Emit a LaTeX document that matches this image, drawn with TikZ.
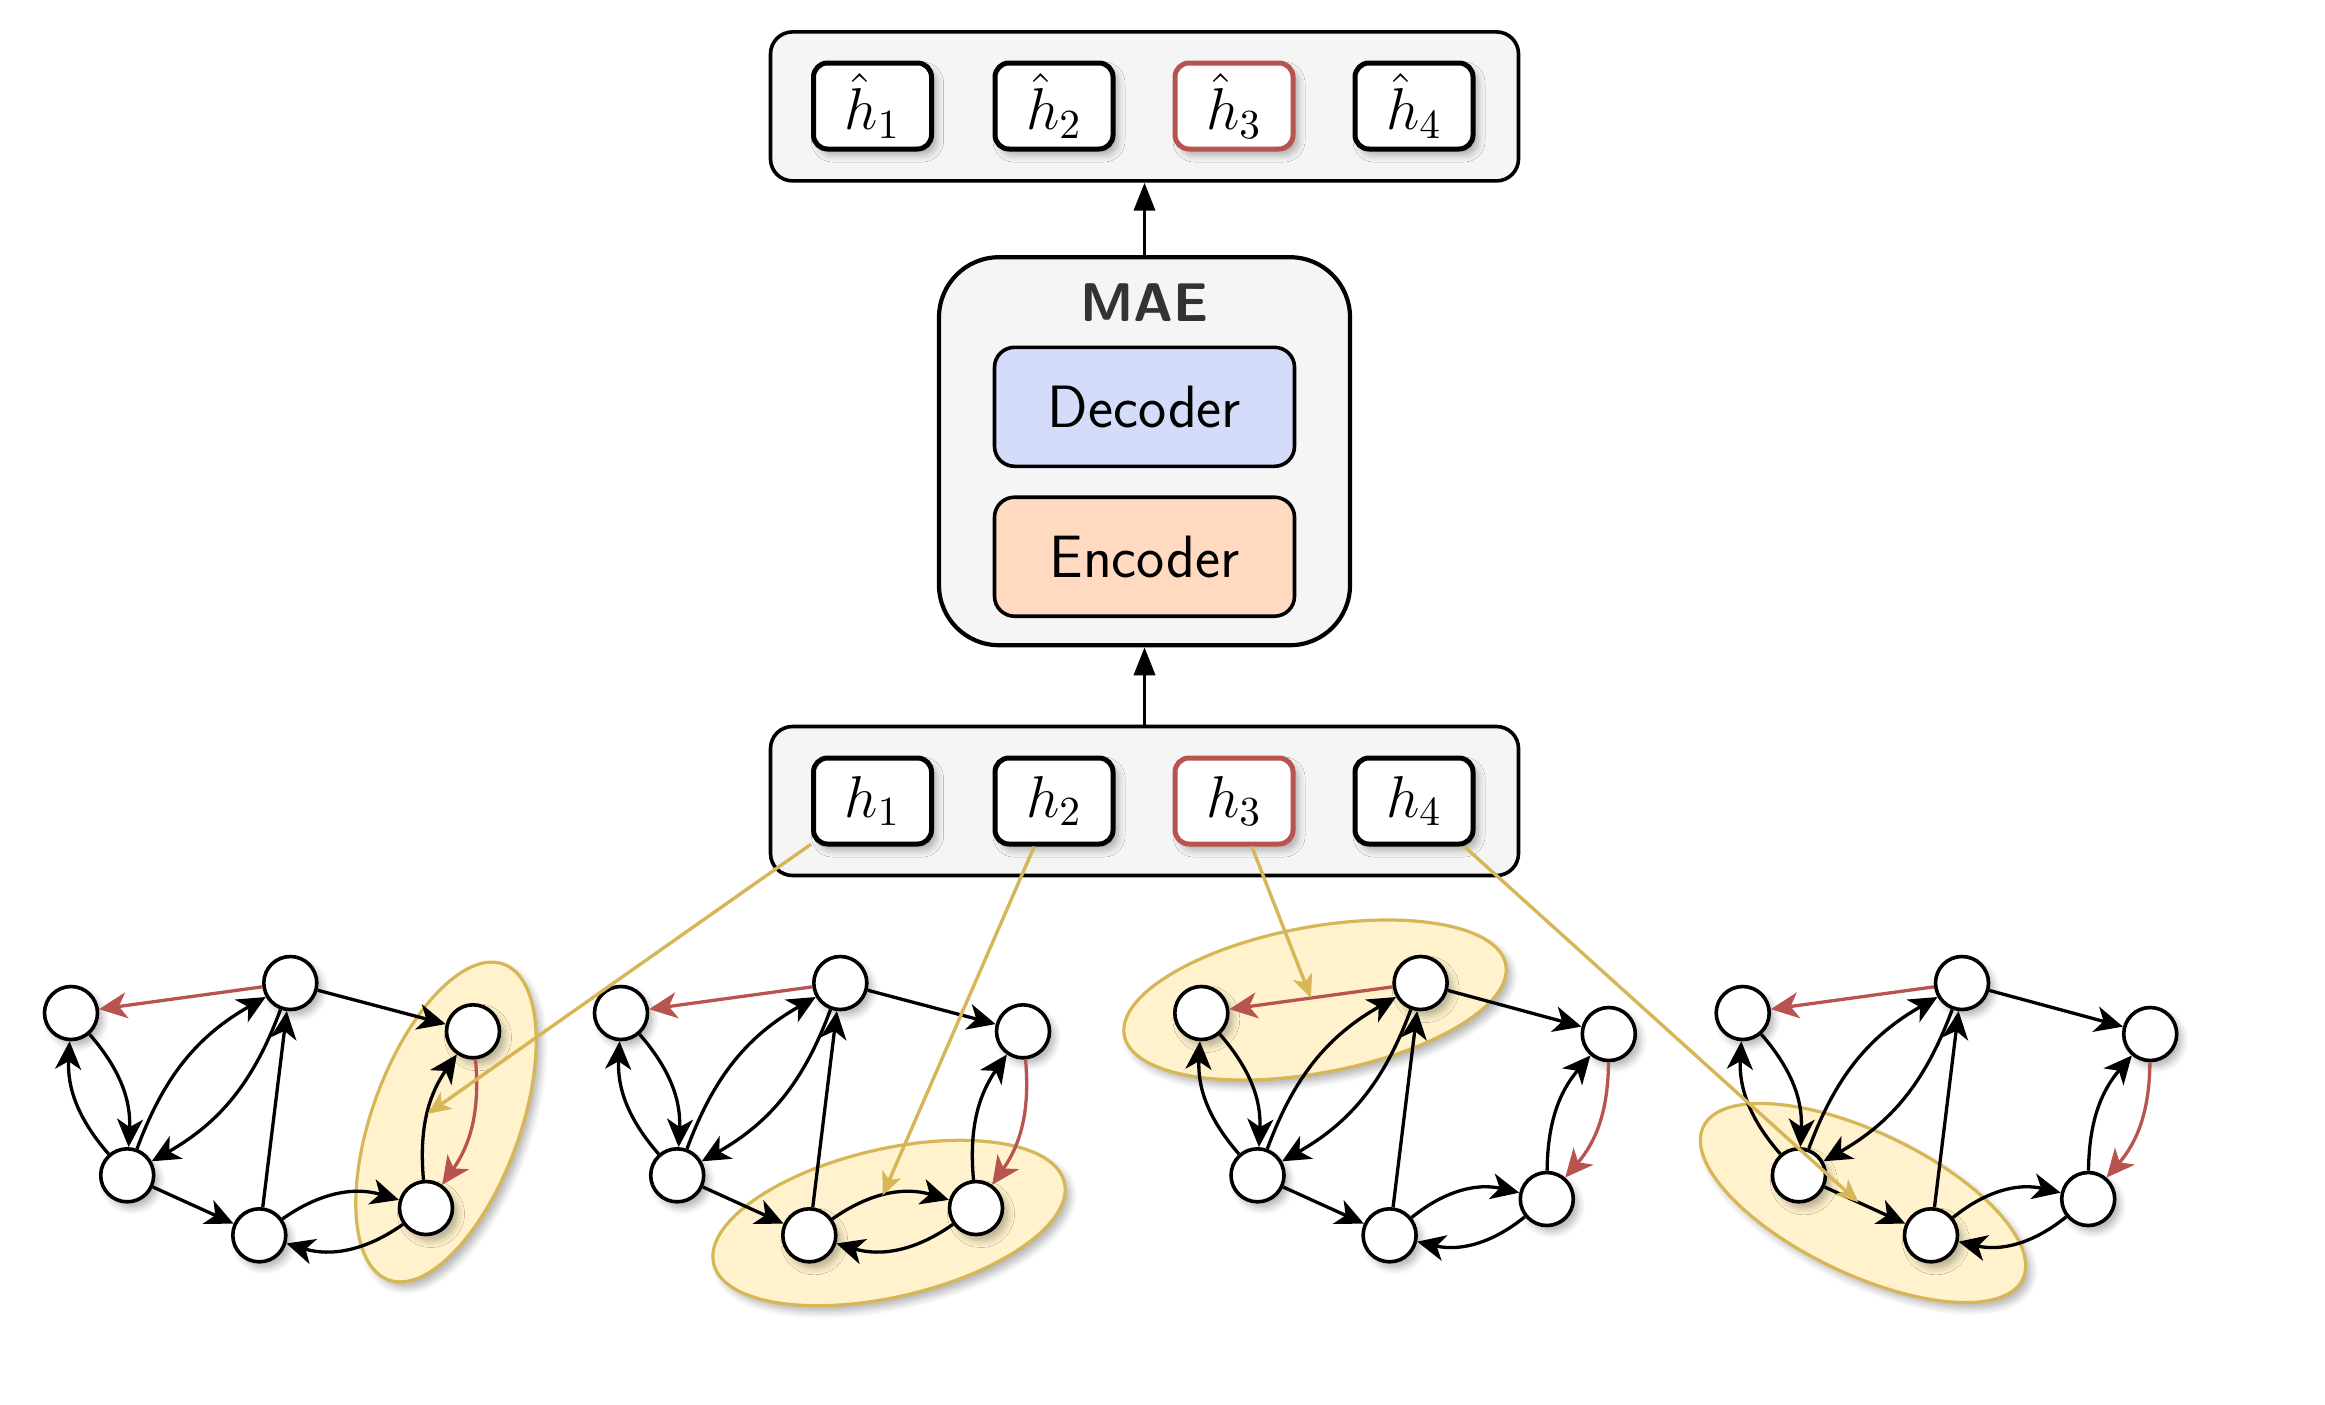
\RequirePackage{fix-cm}
\documentclass[tikz,border=0pt]{standalone}
\usetikzlibrary{arrows.meta,shapes.geometric,shadows.blur}
\definecolor{gfill}{HTML}{F5F5F5}
\definecolor{decfill}{HTML}{D4DCFA}
\definecolor{encfill}{HTML}{FFDAC1}
\definecolor{hred}{HTML}{B85450}
\definecolor{ystroke}{HTML}{D6B656}
\definecolor{yfill}{HTML}{FFF2CC}
\definecolor{maegray}{HTML}{333333}
\tikzset{
 myshadow/.style={blur shadow={shadow xshift=0.5mm, shadow yshift=-0.6mm, shadow blur steps=6, shadow blur radius=0.7mm, shadow opacity=30}},
 outerbox/.style={draw, line width=0.36mm, fill=gfill, rounded corners=2.2mm, minimum width=74.8mm, minimum height=14.9mm, inner sep=0},
 hbox/.style={draw, line width=0.5mm, fill=white, rounded corners=1.4mm, minimum width=11.8mm, minimum height=8.6mm, inner sep=0, myshadow, font=\fontsize{16.8}{19}\selectfont},
 hredbox/.style={hbox, draw=hred},
 maebox/.style={draw, line width=0.42mm, fill=gfill, rounded corners=6mm, minimum width=41.1mm, minimum height=38.8mm, inner sep=0},
 innerbox/.style={draw, line width=0.36mm, rounded corners=2mm, minimum width=30mm, minimum height=11.9mm, inner sep=0, font=\sffamily\fontsize{17}{20}\selectfont},
 blockarrow/.style={line width=0.38mm, -{Triangle[length=2.8mm,width=2.1mm]}},
 gnode/.style={circle, draw, line width=0.36mm, fill=white, minimum size=5.3mm, inner sep=0, myshadow},
 edge/.style={line width=0.33mm, -{Stealth[length=2.8mm,width=2.6mm,inset=0.8mm]}},
 redge/.style={edge, draw=hred},
 hl/.style={ellipse, draw=ystroke, fill=yfill, line width=0.32mm, inner sep=0, myshadow},
 yline/.style={draw=ystroke, line width=0.34mm, -{Stealth[length=2.3mm,width=2mm,inset=0.6mm]}},
}
\newcommand{\mkgraph}[5]{%
 \begin{scope}[shift={(#2,#3)}]
  \node[gnode] (#1A) at (0,0) {};
  \node[gnode] (#1B) at (219.3,30) {};
  \node[gnode] (#1C) at (#4) {};
  \node[gnode] (#1D) at (56.2,-162.3) {};
  \node[gnode] (#1E) at (188.3,-222.3) {};
  \node[gnode] (#1F) at (#5) {};
 \end{scope}
 \draw[redge] (#1B) -- coordinate[pos=.5] (#1mBA) (#1A);
 \draw[edge] (#1B) -- (#1C);
 \draw[edge] (#1A) to[bend left=22] (#1D);
 \draw[edge] (#1D) to[bend left=22] (#1A);
 \draw[edge] (#1D) to[bend left=20] (#1B);
 \draw[edge] (#1B) to[bend left=20] (#1D);
 \draw[edge] (#1E) -- (#1B);
 \draw[edge] (#1D) -- coordinate[pos=.42] (#1mDE) (#1E);
 \draw[edge] (#1E) to[bend left=26] coordinate[pos=.45] (#1mEF) (#1F);
 \draw[edge] (#1F) to[bend left=26] (#1E);
 \draw[edge] (#1F) to[bend left=20] coordinate[pos=.5] (#1mFC) (#1C);
 \draw[redge] (#1C) to[bend left=20] (#1F);
}
\begin{document}
\begin{tikzpicture}[x=0.1mm,y=0.1mm]
\useasboundingbox (0,0) rectangle (2325,-1404);
% top row
\node[outerbox] (topbox) at (1144.5,-106.4) {};
\node[hbox] (t1) at (872.5,-106) {$\hat{h}_1$};
\node[hbox] (t2) at (1054,-106) {$\hat{h}_2$};
\node[hredbox] (t3) at (1234,-106) {$\hat{h}_3$};
\node[hbox] (t4) at (1414,-106) {$\hat{h}_4$};
% MAE
\node[maebox] (mae) at (1144.5,-451.2) {};
\node[anchor=base, font=\sffamily\bfseries\fontsize{15.5}{18}\selectfont, text=maegray] (maelabel) at (1144.5,-321) {MAE};
\node[innerbox, fill=decfill] (dec) at (1144.5,-406.8) {Decoder};
\node[innerbox, fill=encfill] (enc) at (1144.5,-556.7) {Encoder};
% bottom row
\node[outerbox] (botbox) at (1144.5,-801) {};
\node[hbox] (b1) at (872.5,-801) {$h_1$};
\node[hbox] (b2) at (1054,-801) {$h_2$};
\node[hredbox] (b3) at (1234,-801) {$h_3$};
\node[hbox] (b4) at (1414,-801) {$h_4$};
\draw[blockarrow] (botbox.north) -- (mae.south);
\draw[blockarrow] (mae.north) -- (topbox.south);
% highlight ellipses
\node[hl, minimum width=33.6mm, minimum height=14.8mm, rotate=70] (e1) at (446,-1122) {};
\node[hl, minimum width=36mm, minimum height=14.8mm, rotate=13] (e2) at (889,-1223) {};
\node[hl, minimum width=38.8mm, minimum height=14.6mm, rotate=10.5] (e3) at (1315,-1000) {};
\node[hl, minimum width=35.4mm, minimum height=14.2mm, rotate=-25.5] (e4) at (1863,-1203) {};
% graphs
\mkgraph{ga}{71}{-1013}{402,-18.3}{355,-195}
\mkgraph{gb}{621}{-1013}{402,-18.3}{355,-195}
\mkgraph{gc}{1201.3}{-1013}{407.5,-21}{345.5,-186}
\mkgraph{gd}{1742.7}{-1013}{407.5,-21}{345.5,-186}
% selection lines
\draw[yline] (b1) -- (gamFC);
\draw[yline] (b2) -- (gbmEF);
\draw[yline] (b3) -- (gcmBA);
\draw[yline] (b4) -- (gdmDE);
\end{tikzpicture}
\end{document}
